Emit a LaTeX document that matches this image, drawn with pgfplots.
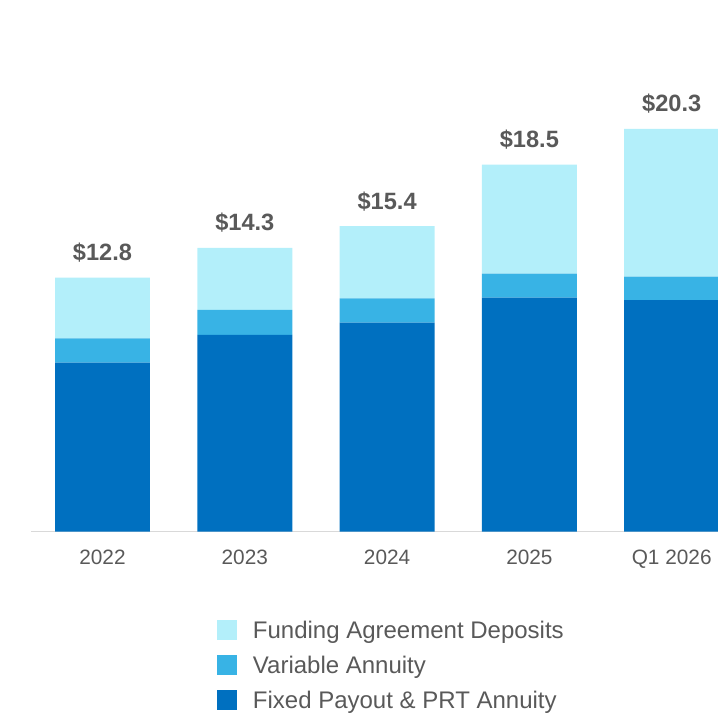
\documentclass[border=0pt]{standalone}
\usepackage{pgfplots}
\pgfplotsset{compat=1.18}
\usepackage{pgfplotstable}
\usepackage{fontspec}
\setmainfont{Liberation Sans}
\definecolor{fp}{HTML}{0070C0}
\definecolor{va}{HTML}{38B3E5}
\definecolor{fa}{HTML}{B3EFFA}
\definecolor{txt}{HTML}{595959}
\definecolor{axl}{HTML}{D9D9D9}

\pgfplotstableread{
x fp va fa tot
0 8.51 1.23 3.06 12.8
1 9.92 1.25 3.13 14.3
2 10.53 1.23 3.64 15.4
3 11.79 1.21 5.50 18.5
4 11.67 1.18 7.45 20.3
}\data

\pgfplotsset{frame/.style={
  at={(15.675pt,90.75pt)}, anchor=south west,
  scale only axis, width=343.3pt, height=218.15pt,
  xmin=-0.5, xmax=4.325, ymin=0, ymax=22}}

\begin{document}
\begin{tikzpicture}
\path[use as bounding box] (0pt,0pt) rectangle (359pt,356.5pt);
\begin{axis}[frame,
  ybar stacked, bar width=0.667,
  axis x line*=bottom, axis y line=none,
  x axis line style={axl, line width=0.8pt, -},
  xtick={0,1,2,3,4}, xticklabels={2022,2023,2024,2025,Q1 2026},
  major tick length=0pt,
  xticklabel style={font=\fontsize{10.4}{12}\selectfont, text=txt, yshift=-5.5pt},
  sq/.style={legend image code/.code={\fill[##1] (0pt,-4.2pt) rectangle (10pt,5.8pt); \path (18pt,0pt);}},
  legend style={at={(0.2703,-0.2028)}, anchor=north west, draw=none, fill=none,
    inner sep=0pt, outer sep=0pt, row sep=6.65pt,
    font=\fontsize{12}{14}\selectfont, text=txt, nodes={inner sep=0pt}},
  legend cell align=left, reverse legend,
]
\addplot[fill=fp, draw=none, sq] table[x=x,y=fp]{\data};
\addplot[fill=va, draw=none, sq] table[x=x,y=va]{\data};
\addplot[fill=fa, draw=none, sq] table[x=x,y=fa]{\data};
\legend{Fixed Payout \& PRT Annuity, Variable Annuity, Funding Agreement Deposits}
\end{axis}
\begin{axis}[frame, axis lines=none, clip=false]
\addplot[only marks, mark=none,
  point meta=explicit symbolic,
  nodes near coords={\$\pgfplotspointmeta},
  nodes near coords style={font=\bfseries\fontsize{11.8}{13}\selectfont, text=txt, anchor=base, inner sep=0pt, yshift=8.5pt}]
  table[x=x,y=tot,meta=tot]{\data};
\end{axis}
\end{tikzpicture}
\end{document}
